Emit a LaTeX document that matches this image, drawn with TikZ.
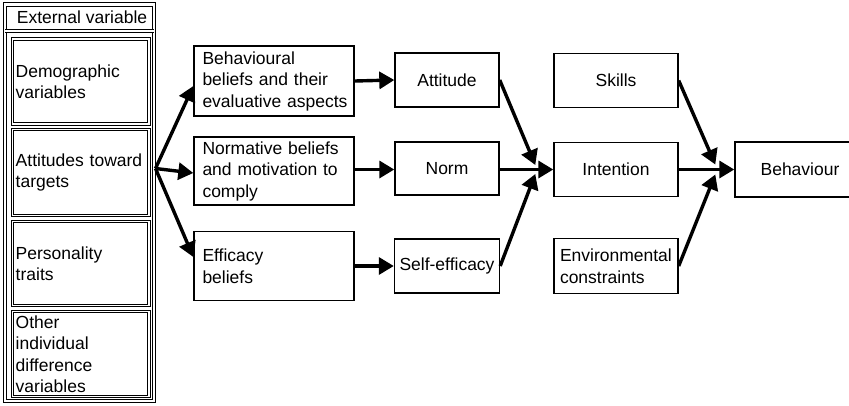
\documentclass[tikz,border=0pt]{standalone}
\usepackage{fontspec}
\setmainfont{Liberation Sans}
\usetikzlibrary{arrows.meta}
\hyphenpenalty=10000
\exhyphenpenalty=10000
\begin{document}
\begin{tikzpicture}[x=1pt,y=-1pt,
  txt/.style={font=\fontsize{17.5}{21.5}\selectfont},
  box/.style={txt,draw,line width=1.4pt,inner ysep=0pt,align=center},
  lbox/.style={box,align=left},
  dbox/.style={txt,draw,double,line width=1pt,double distance=1.4pt,
    minimum width=136.5pt,text width=130pt,inner xsep=3.25pt,inner ysep=0pt,align=left},
  frame/.style={draw,double,line width=1pt,double distance=2.4pt},
  arr/.style={line width=3.4pt,-{Triangle[length=15pt,width=17pt]}},
]
\useasboundingbox (0,0) rectangle (849,405);
\clip (0,0) rectangle (849,405);

% left column
\draw[frame] (5,4.5) rectangle (154,401);
\draw[frame] (5,31) -- (154,31);
\node[txt,anchor=west,inner sep=0pt] (ext) at (16.7,17.5) {External variable};
\node[dbox,minimum height=85pt] (demo) at (80.75,81.5) {Demographic\\variables};
\node[dbox,minimum height=86pt] (attl) at (80.75,172.5) {Attitudes toward\\targets};
\node[dbox,minimum height=84pt] (pers) at (80.75,263.5) {Personality\\traits};
\node[dbox,minimum height=85pt] (oth) at (80.75,354) {Other\\individual\\difference\\variables};

% middle column
\node[lbox,minimum width=160pt,text width=150pt,inner xsep=5pt,minimum height=70pt] (beh) at (274,81) {\hspace*{3.5pt}Behavioural\\\hspace*{3.5pt}beliefs and their\\\hspace*{3.5pt}evaluative aspects};
\node[lbox,minimum width=160pt,text width=150pt,inner xsep=5pt,minimum height=68pt] (nor) at (274,171) {\hspace*{3.5pt}Normative beliefs\\\hspace*{3.5pt}and motivation to\\\hspace*{3.5pt}comply};
\node[lbox,minimum width=160pt,text width=150pt,inner xsep=5pt,minimum height=69pt] (eff) at (274,266) {\hspace*{3.5pt}Efficacy\\\hspace*{3.5pt}beliefs};

\node[box,minimum width=104pt,inner xsep=0pt,minimum height=54pt] (atd) at (447,80) {Attitude};
\node[box,minimum width=104pt,inner xsep=0pt,minimum height=53pt] (nrm) at (447,168.5) {Norm};
\node[box,minimum width=105pt,inner xsep=0pt,minimum height=54pt] (sef) at (447,266) {Self-efficacy};

\node[box,minimum width=124pt,inner xsep=0pt,minimum height=54pt] (skl) at (616,80.5) {Skills};
\node[box,minimum width=124pt,inner xsep=0pt,minimum height=54pt] (int) at (616,169.5) {Intention};
\node[lbox,minimum width=124pt,text width=118pt,inner xsep=3pt,minimum height=55pt] (env) at (616,266) {\hspace*{3pt}Environmental\\\hspace*{3pt}constraints};

\node[box,minimum width=130pt,inner xsep=0pt,minimum height=55pt] (bhv) at (800,169.5) {Behaviour};

% connectors
\coordinate (fan) at ([xshift=6pt,yshift=4pt]attl.east);
\draw[arr] (fan) -- ([yshift=-5pt]beh.west);
\draw[arr] (fan) -- ([yshift=-2pt]nor.west);
\draw[arr] (fan) -- ([yshift=9pt]eff.west);

\draw[arr] (beh.east) -- (atd.west);
\draw[arr] ([yshift=1.5pt]nor.east) -- ([yshift=1.5pt]nor.east -| nrm.west);
\draw[arr] ([yshift=0pt]eff.east) -- (sef.west);

\coordinate (iT) at ([xshift=-18pt,yshift=4.5pt]int.west);
\coordinate (iB) at ([xshift=-18pt,yshift=-4.5pt]int.west);
\draw[arr] (atd.east) -- (iT);
\draw[arr] (nrm.east |- int.west) -- (int.west);
\draw[arr] (sef.east) -- (iB);

\coordinate (bT) at ([xshift=-19pt,yshift=5pt]bhv.west);
\coordinate (bB) at ([xshift=-19pt,yshift=-5pt]bhv.west);
\draw[arr] (skl.east) -- (bT);
\draw[arr] (int.east) -- (bhv.west);
\draw[arr] (env.east) -- (bB);
\end{tikzpicture}
\end{document}
